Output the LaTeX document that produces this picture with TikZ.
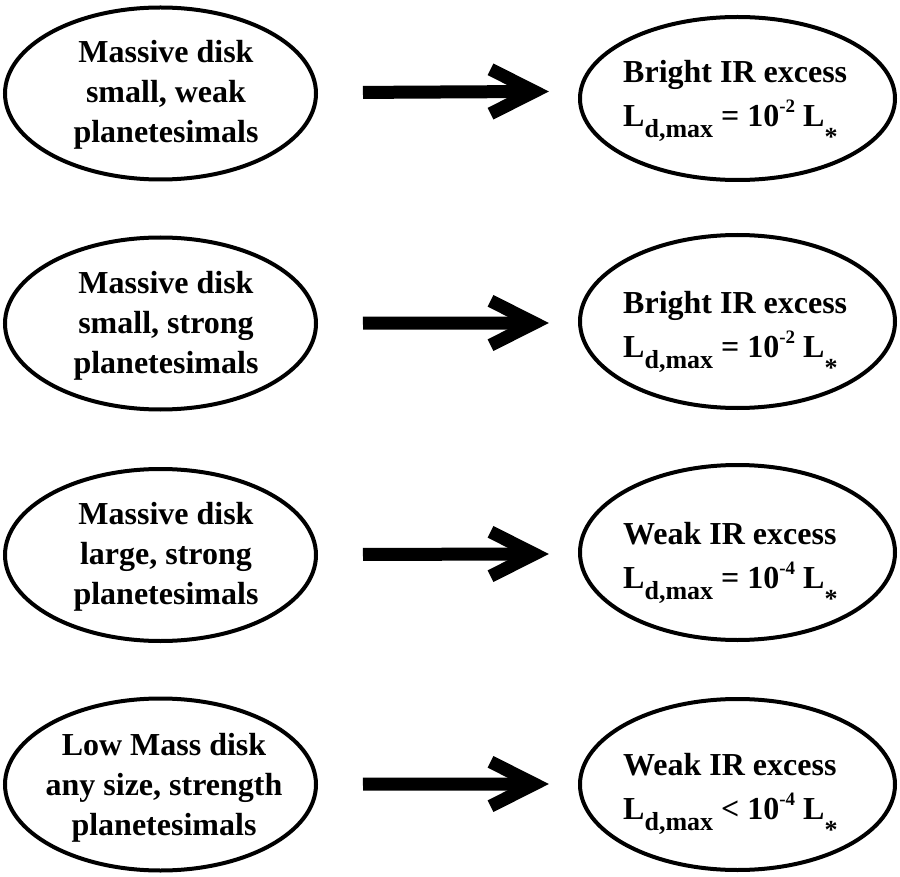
\documentclass[tikz,border=0pt]{standalone}
\usepackage{fontspec}
\setmainfont{Liberation Serif}
\usetikzlibrary{shapes.geometric}
\newcommand{\lsub}[1]{\raisebox{-11pt}{\fontsize{26}{26}\selectfont #1}}
\newcommand{\lsup}[1]{\raisebox{14pt}{\fontsize{19}{19}\selectfont #1}}
\newcommand{\lstar}{\raisebox{-19pt}{\fontsize{26}{26}\selectfont *}}
\begin{document}
\begin{tikzpicture}[x=1pt,y=-1pt,
  disk/.style={ellipse, draw, line width=4, inner sep=0, outer sep=0, minimum width=311, minimum height=172},
  lum/.style={ellipse, draw, line width=4, inner sep=0, outer sep=0, minimum width=315},
  ltxt/.style={font=\bfseries\fontsize{32}{40}\selectfont, align=center, inner sep=0, anchor=base},
  rtxt/.style={font=\bfseries\fontsize{32}{44}\selectfont, align=left, inner sep=0, anchor=base west},
  shaft/.style={line width=13, line cap=butt, shorten <=47},
  chev/.style={line width=13, line join=miter, line cap=butt}]
\useasboundingbox[fill=white] (0,0) rectangle (900,877);

% left ellipses
\node[disk] (L1) at (160.5,93.5) {};
\node[disk] (L2) at (160.5,323.5) {};
\node[disk] (L3) at (160.5,555) {};
\node[disk] (L4) at (160.5,784.5) {};
% right ellipses
\node[lum, minimum height=163] (R1) at (737.5,98.5) {};
\node[lum, minimum height=173] (R2) at (737.5,321.5) {};
\node[lum, minimum height=175] (R3) at (737.5,552.5) {};
\node[lum, minimum height=171] (R4) at (737.5,784.5) {};

% left texts (anchor = baseline of last line)
\node[ltxt] (LT1) at (166,143) {Massive disk\\small, weak\\planetesimals};
\node[ltxt] (LT2) at (166,373.7) {Massive disk\\small, strong\\planetesimals};
\node[ltxt] (LT3) at (166,604.4) {Massive disk\\large, strong\\planetesimals};
\node[ltxt] (LT4) at (164,835) {Low Mass disk\\any size, strength\\planetesimals};

% right texts (anchor = baseline of last line)
\node[rtxt] (RT1) at (623,127) {Bright IR excess\\L\lsub{d,max} = 10\lsup{-2} L\lstar};
\node[rtxt] (RT2) at (623,357.7) {Bright IR excess\\L\lsub{d,max} = 10\lsup{-2} L\lstar};
\node[rtxt] (RT3) at (623,588.4) {Weak IR excess\\L\lsub{d,max} = 10\lsup{-4} L\lstar};
\node[rtxt] (RT4) at (623,819) {Weak IR excess\\L\lsub{d,max} < 10\lsup{-4} L\lstar};

% arrows
\coordinate (T1) at (534.5,91.5);
\coordinate (T2) at (534.5,323);
\coordinate (T3) at (534.5,554);
\coordinate (T4) at (534.5,784);
\foreach \i in {1,2,3,4}{
  \draw[shaft] (L\i) -- (T\i);
  \draw[chev] ([shift={(-44,-22.2)}]T\i) -- (T\i) -- ([shift={(-44,22.2)}]T\i);
}
\end{tikzpicture}
\end{document}
